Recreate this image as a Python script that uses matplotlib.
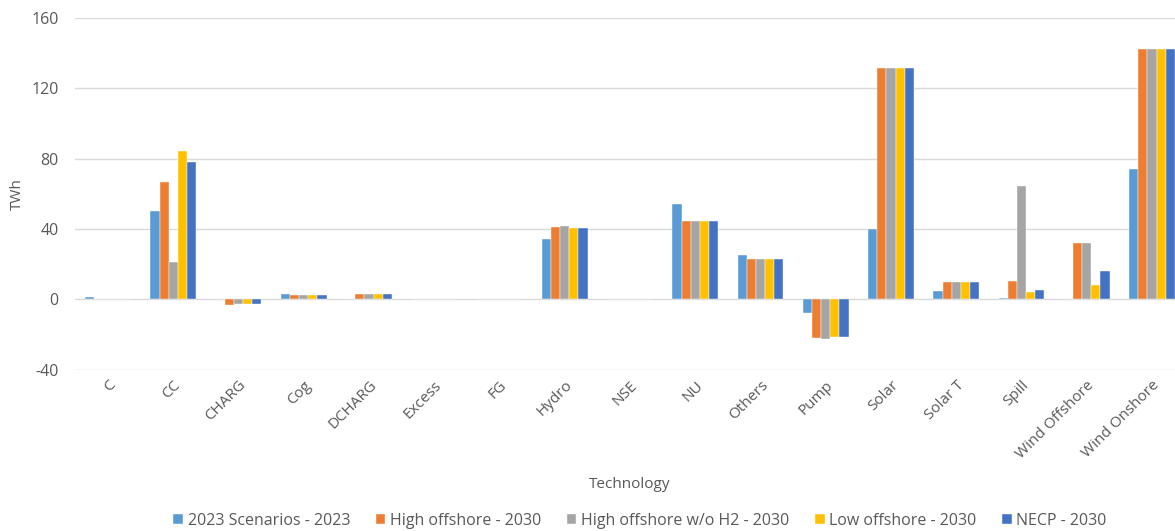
import matplotlib
matplotlib.use("Agg")
import matplotlib.pyplot as plt
import numpy as np

categories = ["C", "CC", "CHARG", "Cog", "DCHARG", "Excess", "FG", "Hydro", "NSE",
              "NU", "Others", "Pump", "Solar", "Solar T", "Spill", "Wind Offshore", "Wind Onshore"]

series_names = ["2023 Scenarios - 2023", "High offshore - 2030", "High offshore w/o H2 - 2030",
                "Low offshore - 2030", "NECP - 2030"]

s2023 = [1.5, 50.1, 0, 2.9, 0, 0, 0, 34.4, 0, 54.3, 25.2, -8.0, 40.1, 4.7, 0.8, 0, 74.1]
high_off = [0, 66.8, -3.3, 2.3, 3.0, 0, 0, 41.2, 0, 44.6, 23.1, -21.9, 131.4, 9.7, 10.4, 31.9, 142.4]
high_off_noh2 = [0, 21.3, -3.0, 2.3, 3.0, 0, 0, 41.4, 0, 44.6, 23.1, -22.4, 131.4, 9.7, 64.6, 31.9, 142.4]
low_off = [0, 84.3, -3.0, 2.3, 3.0, 0, 0, 40.4, 0, 44.6, 23.1, -21.3, 131.4, 9.7, 4.2, 7.8, 142.4]
necp = [0, 77.8, -3.0, 2.3, 3.0, 0, 0, 40.6, 0, 44.6, 23.1, -21.5, 131.4, 9.7, 5.5, 15.9, 142.4]

colors = ["#5B9BD5", "#ED7D31", "#A5A5A5", "#FFC000", "#4472C4"]
yticks = [-40, 0, 40, 80, 120, 160]

plt.rcParams['font.family'] = ['Open Sans', 'DejaVu Sans']
text_color = "#595959"

fig = plt.figure(figsize=(11.75, 5.31), dpi=100)
ax_l, ax_b, ax_w, ax_h = 75.4, 161.5, 1109.2, 351.5
ax = fig.add_axes([ax_l / 1175, ax_b / 531, ax_w / 1175, ax_h / 531])

data = [s2023, high_off, high_off_noh2, low_off, necp]
x = np.arange(len(categories))
n = len(data)
bw = 0.14
for i, (vals, c, name) in enumerate(zip(data, colors, series_names)):
    ax.bar(x + (i - (n - 1) / 2) * bw, vals, width=bw, color=c, label=name, zorder=3,
           edgecolor="white", linewidth=0.3)

ax.set_xlim(-0.5, len(categories) - 0.5)
ax.set_ylim(-40, 160)
ax.set_yticks(yticks)
ax.set_yticklabels([str(v) for v in yticks], fontsize=11.5, color=text_color)
ax.grid(axis="y", color="#D9D9D9", linewidth=1, zorder=0)
for s in ax.spines.values():
    s.set_visible(False)
ax.tick_params(axis="both", length=0)
ax.tick_params(axis="y", pad=12)
ax.set_xticks(x)
ax.set_xticklabels(categories, rotation=45, ha="right", rotation_mode="anchor",
                   fontsize=11, color=text_color)
ax.tick_params(axis="x", pad=6)

ax.set_ylabel("TWh", fontsize=11, color=text_color)
ax.yaxis.set_label_coords((25 - ax_l) / ax_w, 0.5)
ax.set_xlabel("Technology", fontsize=11, color=text_color)
ax.xaxis.set_label_coords(0.5, -((477 - (531 - ax_b - ax_h)) - ax_h) / ax_h)

leg = fig.legend(loc="center", bbox_to_anchor=(640 / 1175, 1 - 521 / 531), ncol=5,
                 frameon=False, fontsize=11.5, handlelength=0.6, handleheight=0.6,
                 columnspacing=1.6, handletextpad=0.3)
for t in leg.get_texts():
    t.set_color(text_color)

fig.savefig("out.png", dpi=100)
